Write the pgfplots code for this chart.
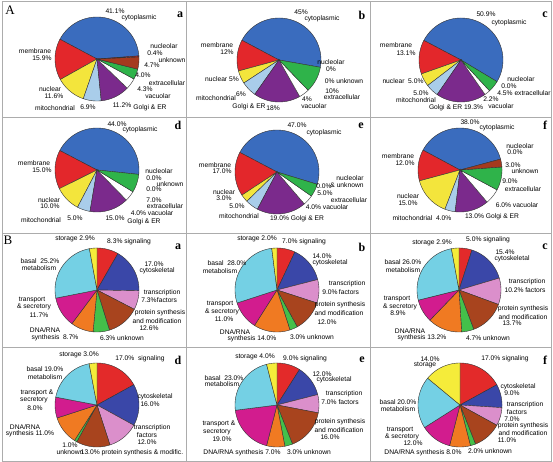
\documentclass[border=0pt]{standalone}
\usepackage{fontspec}
\setmainfont{Liberation Sans}
\newfontfamily\lserif{Liberation Serif}
\usepackage{pgfplots}
\usepackage{pgfplotstable}
\pgfplotsset{compat=1.18}

% Panel A colours: cytoplasmic, membrane, nuclear, mitochondrial, Golgi&ER, vacuolar, extracellular, unknown, nucleolar
\definecolor{ca0}{HTML}{3A6CBE}
\definecolor{ca1}{HTML}{E3272B}
\definecolor{ca2}{HTML}{F3E53C}
\definecolor{ca3}{HTML}{A9CDEA}
\definecolor{ca4}{HTML}{7B2A8C}
\definecolor{ca5}{HTML}{FFFFFF}
\definecolor{ca6}{HTML}{2FB34A}
\definecolor{ca7}{HTML}{A53A1E}
\definecolor{ca8}{HTML}{D02020}
% Panel B colours: signaling, cytoskeletal, transcription, protein synth., unknown, DNA/RNA, transport, basal, storage
\definecolor{cb0}{HTML}{E32A2A}
\definecolor{cb1}{HTML}{3A47A8}
\definecolor{cb2}{HTML}{DB8FCB}
\definecolor{cb3}{HTML}{A8441E}
\definecolor{cb4}{HTML}{44C04A}
\definecolor{cb5}{HTML}{F07A22}
\definecolor{cb6}{HTML}{D21C8E}
\definecolor{cb7}{HTML}{74D0E4}
\definecolor{cb8}{HTML}{F5EC3A}

\pgfplotstableread{
v
41.1
15.9
11.6
6.9
11.2
4.3
4.0
4.7
0.4
}\Aa
\pgfplotstableread{
v
45
12
5
6
18
4
10
0
0
}\Ab
\pgfplotstableread{
v
50.9
13.1
5.0
5.0
19.3
2.2
4.5
0
0.0
}\Ac
\pgfplotstableread{
v
44.0
15.0
10.0
5.0
15.0
4.0
7.0
0.0
0.0
}\Ad
\pgfplotstableread{
v
47.0
17.0
3.0
5.0
19.0
4.0
5.0
0.0
0.0
}\Ae
\pgfplotstableread{
v
38.0
12.0
15.0
4.0
13.0
6.0
9.0
3.0
0.0
}\Af
\pgfplotstableread{
v
8.3
17.0
7.3
12.6
6.3
8.7
11.7
25.2
2.9
}\Ba
\pgfplotstableread{
v
7.0
14.0
9.0
12.0
3.0
14.0
11.0
28.0
2.0
}\Bb
\pgfplotstableread{
v
5.0
15.4
10.2
13.7
4.7
13.2
8.9
26.0
2.9
}\Bc
\pgfplotstableread{
v
17.0
16.0
12.0
13.0
1.0
11.0
8.0
19.0
3.0
}\Bd
\pgfplotstableread{
v
9.0
12.0
7.0
16.0
3.0
7.0
19.0
23.0
4.0
}\Be
\pgfplotstableread{
v
17.0
9.0
7.0
11.0
2.0
8.0
12.0
20.0
14.0
}\Bf

\def\R{42}
% #1 table, #2 start angle, #3 direction (1 ccw, -1 cw), #4 colour prefix
\newcommand\drawpie[4]{%
  \pgfplotstablegetrowsof{#1}%
  \pgfmathtruncatemacro\nrows{\pgfplotsretval-1}%
  \pgfmathsetmacro\cur{#2}%
  \pgfplotsforeachungrouped \i in {0,...,\nrows}{%
    \pgfplotstablegetelem{\i}{v}\of{#1}%
    \let\val\pgfplotsretval
    \pgfmathsetmacro\nxt{\cur+(#3)*3.6*\val}%
    \pgfmathtruncatemacro\pos{\val>0.01?1:0}%
    \ifnum\pos=1
      \pgfmathsetmacro\lo{min(\cur,\nxt)}%
      \pgfmathsetmacro\hi{max(\cur,\nxt)}%
      \edef\temp{\noexpand\addplot[slice, fill=#4\i, domain=\lo:\hi] ({\R*cos(x)},{\R*sin(x)}) -- (axis cs:0,0) -- cycle;}%
      \temp
    \fi
    \let\cur\nxt
  }%
}

\pgfplotsset{
  pieax/.style={hide axis, clip=false, x=1pt, y=1pt,
    xmin=-60, xmax=60, ymin=-60, ymax=60, anchor=center},
  slice/.style={draw=black!80, line width=0.4pt, samples=40},
}
\tikzset{lbl/.style={font=\fontsize{6.7}{7}\selectfont, inner sep=0pt, align=center}}
\newcommand\lb[3]{\node[lbl] at (axis cs:#1,#2) {#3};}

\begin{document}
\begin{tikzpicture}
\path[use as bounding box] (0pt,0pt) rectangle (553pt,462pt);

% ---------------- A a
\begin{axis}[pieax, at={(97pt,403pt)}]
\drawpie{\Aa}{4}{1}{ca}
\lb{18}{48}{41.1\%}\lb{42}{41}{cytoplasmic}
\lb{-62}{8}{membrane}\lb{-55}{1}{15.9\%}
\lb{-47}{-30}{nuclear}\lb{-43}{-37}{11.6\%}
\lb{-42}{-49}{mitochondrial}\lb{-9}{-48}{6.9\%}
\lb{25}{-46}{11.2\%}\lb{53}{-49}{Golgi \& ER}
\lb{48}{-30}{4.3\%}\lb{61}{-37}{vacuolar}
\lb{46}{-16}{4.0\%}\lb{70}{-24}{extracellular}
\lb{75}{-1}{unknown}\lb{55}{-6}{4.7\%}
\lb{67}{13}{nucleolar}\lb{58}{6}{0.4\%}
\end{axis}
% ---------------- A b
\begin{axis}[pieax, at={(279pt,402pt)}]
\drawpie{\Ab}{-10}{1}{ca}
\lb{22}{48}{45\%}\lb{43}{41}{cytoplasmic}
\lb{-62}{15}{membrane}\lb{-52}{8}{12\%}
\lb{-57}{-19}{nuclear 5\%}
\lb{-63}{-38}{mitochondrial}\lb{-38}{-34}{6\%}
\lb{-30}{-47}{Golgi \& ER}\lb{-6}{-48}{18\%}
\lb{28}{-39}{4\%}\lb{35}{-46}{vacuolar}
\lb{53}{-31}{10\%}\lb{63}{-37}{extracellular}
\lb{65}{-21}{0\% unknown}
\lb{52}{-2}{nucleolar}\lb{52}{-9}{0\%}
\end{axis}
% ---------------- A c
\begin{axis}[pieax, at={(461pt,402pt)}]
\drawpie{\Ac}{-31}{1}{ca}
\lb{25}{46}{50.9\%}\lb{48}{37}{cytoplasmic}
\lb{-65}{15}{membrane}\lb{-55}{7}{13.1\%}
\lb{-58}{-21}{nuclear\ \ 5.0\%}
\lb{-40}{-33}{5.0\%}\lb{-45}{-40}{mitochondrial}
\lb{-5}{-48}{Golgi \& ER 19.3\%}
\lb{30}{-39}{2.2\%}\lb{40}{-46}{vacuolar}
\lb{63}{-33}{4.5\% extracellular}
\lb{60}{-19}{nucleolar}\lb{48}{-26}{0.0\%}
\end{axis}
% ---------------- A d
\begin{axis}[pieax, at={(97pt,292pt)}]
\drawpie{\Ad}{-6}{1}{ca}
\lb{20}{46}{44.0\%}\lb{43}{40}{cytoplasmic}
\lb{-63}{7}{membrane}\lb{-55}{0}{15.0\%}
\lb{-48}{-30}{nuclear}\lb{-47}{-36}{10.0\%}
\lb{-56}{-50}{mitochondrial}\lb{-22}{-48}{5.0\%}
\lb{18}{-48}{15.0\%}\lb{47}{-52}{Golgi \& ER}
\lb{55}{-43}{4.0\% vacuolar}
\lb{57}{-30}{7.0\%}\lb{68}{-36}{extracellular}
\lb{73}{-14}{unknown}\lb{57}{-19}{0.0\%}
\lb{62}{-1}{nucleolar}\lb{57}{-8}{0.0\%}
\end{axis}
% ---------------- A e
\begin{axis}[pieax, at={(277pt,290pt)}]
\drawpie{\Ae}{-17}{1}{ca}
\lb{20}{47}{47.0\%}\lb{47}{39}{cytoplasmic}
\lb{-62}{7}{membrane}\lb{-55}{1}{17.0\%}
\lb{-53}{-20}{nuclear}\lb{-53}{-26}{3.0\%}
\lb{-40}{-34}{5.0\%}\lb{-38}{-44}{mitochondrial}
\lb{20}{-47}{19.0\% Golgi \& ER}
\lb{50}{-35}{4.0\% vacuolar}
\lb{48}{-21}{5.0\%}\lb{72}{-28}{extracellular}
\lb{73}{-6}{nucleolar}\lb{47}{-14}{0.0\%}\lb{70}{-13}{\& unknown}
\end{axis}
% ---------------- A f
\begin{axis}[pieax, at={(460pt,292pt)}]
\drawpie{\Af}{15}{1}{ca}
\lb{10}{48}{38.0\%}\lb{37}{42}{cytoplasmic}
\lb{-62}{14}{membrane}\lb{-55}{7}{12.0\%}
\lb{-52}{-26}{nuclear}\lb{-52}{-33}{15.0\%}
\lb{-38}{-48}{mitochondrial\ \ 4.0\%}
\lb{32}{-47}{13.0\% Golgi \& ER}
\lb{57}{-35}{6.0\% vacuolar}
\lb{50}{-11}{9.0\%}\lb{63}{-19}{extracellular}
\lb{53}{5}{3.0\%}\lb{65}{-1}{unknown}
\lb{60}{24}{nucleolar}\lb{55}{18}{0.0\%}
\end{axis}

% ---------------- B a
\begin{axis}[pieax, at={(97pt,172pt)}]
\drawpie{\Ba}{90}{-1}{cb}
\lb{-22}{51}{storage 2.9\%}\lb{32}{48}{8.3\% signaling}
\lb{57}{26}{17.0\%}\lb{60}{19}{cytoskeletal}
\lb{65}{-3}{transcription}\lb{52}{-10}{7.3\%}\lb{70}{-10}{factors}
\lb{63}{-23}{protein synthesis}\lb{60}{-31}{and modification}\lb{52}{-38}{12.6\%}
\lb{25}{-48}{6.3\% unknown}
\lb{-52}{-40}{DNA/RNA}\lb{-42}{-48}{synthesis\ \ 8.7\%}
\lb{-65}{-10}{transport}\lb{-63}{-17}{\& secretory}\lb{-58}{-25}{11.7\%}
\lb{-57}{29}{basal\ \ 25.2\%}\lb{-58}{22}{metabolism}
\end{axis}
% ---------------- B b
\begin{axis}[pieax, at={(277pt,172pt)}]
\drawpie{\Bb}{90}{-1}{cb}
\lb{-20}{51}{storage 2.0\%}\lb{27}{48}{7.0\% signaling}
\lb{45}{34}{14.0\%}\lb{53}{27}{cytoskeletal}
\lb{70}{6}{transcription}\lb{53}{-2}{9.0\%}\lb{72}{-2}{factors}
\lb{63}{-15}{protein synthesis}\lb{62}{-23}{and modification}\lb{50}{-32}{12.0\%}
\lb{35}{-47}{3.0\% unknown}
\lb{-42}{-42}{DNA/RNA}\lb{-25}{-49}{synthesis 14.0\%}
\lb{-57}{-14}{transport}\lb{-55}{-22}{\& secretory}\lb{-53}{-29}{11.0\%}
\lb{-50}{27}{basal\ \ 28.0\%}\lb{-57}{19}{metabolism}
\end{axis}
% ---------------- B c
\begin{axis}[pieax, at={(459pt,172pt)}]
\drawpie{\Bc}{90}{-1}{cb}
\lb{-27}{47}{storage 2.9\%}\lb{29}{50}{5.0\% signaling}
\lb{46}{38}{15.4\%}\lb{53}{31}{cytoskeletal}
\lb{68}{8}{transcription}\lb{66}{0}{10.2\% factors}
\lb{64}{-19}{protein synthesis}\lb{64}{-27}{and modification}\lb{53}{-33}{13.7\%}
\lb{29}{-48}{4.7\% unknown}
\lb{-49}{-41}{DNA/RNA}\lb{-37}{-48}{synthesis 13.2\%}
\lb{-62}{-9}{transport}\lb{-59}{-17}{\& secretory}\lb{-61}{-23}{8.9\%}
\lb{-56}{28}{basal 26.0\%}\lb{-56}{20}{metabolism}
\end{axis}
% ---------------- B d
\begin{axis}[pieax, at={(97pt,57pt)}]
\drawpie{\Bd}{90}{-1}{cb}
\lb{-18}{50}{storage 3.0\%}\lb{43}{46}{17.0\%\ \ signaling}
\lb{58}{8}{cytoskeletal}\lb{53}{1}{16.0\%}
\lb{55}{-23}{transcription}\lb{50}{-30}{factors}\lb{50}{-37}{12.0\%}
\lb{35}{-48}{13.0\% protein synthesis \& modific.}
\lb{-27}{-40}{1.0\%}\lb{-27}{-47}{unknown}
\lb{-72}{-22}{DNA/RNA}\lb{-67}{-29}{synthesis 11.0\%}
\lb{-60}{12}{transport \&}\lb{-63}{5}{secretory}\lb{-62}{-3}{8.0\%}
\lb{-52}{36}{basal 19.0\%}\lb{-52}{28}{metabolism}
\end{axis}
% ---------------- B e
\begin{axis}[pieax, at={(277pt,57pt)}]
\drawpie{\Be}{90}{-1}{cb}
\lb{-22}{48}{storage 4.0\%}\lb{28}{46}{9.0\% signaling}
\lb{45}{31}{12.0\%}\lb{57}{25}{cytoskeletal}
\lb{67}{11}{transcription}\lb{63}{3}{7.0\% factors}
\lb{63}{-17}{protein synthesis}\lb{62}{-25}{and modification}\lb{53}{-32}{16.0\%}
\lb{32}{-47}{3.0\% unknown}
\lb{-35}{-48}{DNA/RNA synthesis 7.0\%}
\lb{-58}{-19}{transport \&}\lb{-60}{-27}{secretory}\lb{-55}{-34}{19.0\%}
\lb{-53}{27}{basal\ \ 23.0\%}\lb{-55}{21}{metabolism}
\end{axis}
% ---------------- B f
\begin{axis}[pieax, at={(460pt,57pt)}]
\drawpie{\Bf}{90}{-1}{cb}
\lb{-30}{46}{14.0\%}\lb{-35}{40}{storage}\lb{45}{46}{17.0\% signaling}
\lb{58}{18}{cytoskeletal}\lb{52}{12}{9.0\%}
\lb{65}{0}{transcription}\lb{57}{-7}{factors}\lb{52}{-14}{7.0\%}
\lb{63}{-21}{protein synthesis}\lb{63}{-28}{and modification}\lb{47}{-35}{11.0\%}
\lb{30}{-46}{2.0\% unknown}
\lb{-37}{-48}{DNA/RNA synthesis 8.0\%}
\lb{-60}{-25}{transport}\lb{-58}{-32}{\& secretory}\lb{-47}{-38}{12.0\%}
\lb{-62}{3}{basal 20.0\%}\lb{-62}{-4}{metabolism}
\end{axis}

% frame
\begin{scope}[gray!65, line width=0.7pt]
\draw (2pt,1pt) rectangle (551pt,461pt);
\draw (186pt,1pt) -- (186pt,461pt);
\draw (370pt,1pt) -- (370pt,461pt);
\draw (2pt,345pt) -- (551pt,345pt);
\draw (2pt,229pt) -- (551pt,229pt);
\draw (2pt,115pt) -- (551pt,115pt);
\end{scope}

% letters
\begin{scope}[every node/.style={font=\lserif\bfseries\fontsize{12}{12}\selectfont, inner sep=0pt}]
\node at (180pt,447pt) {a};\node at (362pt,447pt) {b};\node at (545pt,447pt) {c};
\node at (178pt,337pt) {d};\node at (361pt,336pt) {e};\node at (545pt,337pt) {f};
\node at (178pt,215pt) {a};\node at (362pt,215pt) {b};\node at (545pt,215pt) {c};
\node at (178pt,102pt) {d};\node at (362pt,102pt) {e};\node at (545pt,102pt) {f};
\end{scope}
\node[font=\lserif\fontsize{13}{13}\selectfont, inner sep=0pt] at (10pt,452pt) {A};
\node[font=\lserif\fontsize{13}{13}\selectfont, inner sep=0pt] at (8pt,222pt) {B};
\end{tikzpicture}
\end{document}
